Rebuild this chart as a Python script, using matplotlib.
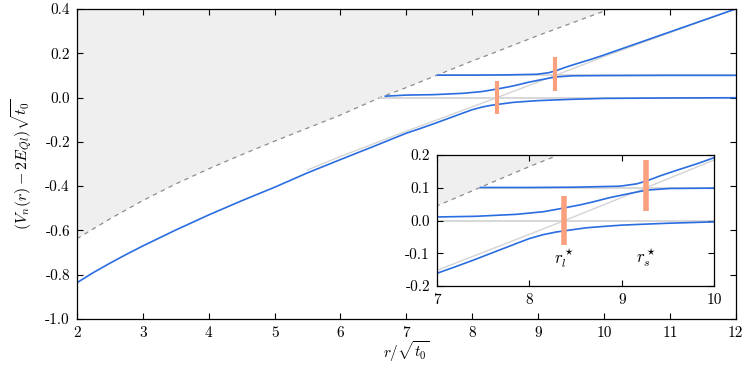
import numpy as np
import matplotlib
matplotlib.use("Agg")
import matplotlib.pyplot as plt

plt.rcParams["font.family"] = "serif"
plt.rcParams["font.serif"] = ["cmr10", "DejaVu Serif"]
plt.rcParams["mathtext.fontset"] = "cm"
plt.rcParams["axes.unicode_minus"] = False
plt.rcParams["axes.formatter.use_mathtext"] = True

# threshold (dashed line, shaded region above it)
thr_x = [2.0, 2.5, 3.0, 3.5, 4.0, 4.5, 5.0, 5.5, 6.0, 6.6, 7.0, 7.5, 8.0, 8.25,
         8.5, 9.0, 9.5, 10.0, 10.3]
thr_y = [-0.637, -0.548, -0.465, -0.390, -0.322, -0.258, -0.197, -0.138, -0.079,
         0.0, 0.045, 0.105, 0.165, 0.193, 0.222, 0.280, 0.335, 0.390, 0.425]

# lowest level
n0_x = [2.0, 2.25, 2.5, 2.75, 3.0, 3.5, 4.0, 4.5, 5.0, 5.5, 6.0, 6.5, 7.0, 7.21,
        7.42, 7.64, 7.86, 8.0, 8.15, 8.29, 8.44, 8.62, 8.8, 9.0, 9.16, 9.52, 10.0,
        10.5, 11.0, 12.0]
n0_y = [-0.836, -0.790, -0.748, -0.708, -0.670, -0.598, -0.530, -0.466, -0.405,
        -0.340, -0.280, -0.221, -0.161, -0.140, -0.118, -0.094, -0.070, -0.055,
        -0.043, -0.035, -0.029, -0.022, -0.018, -0.014, -0.012, -0.008, -0.004,
        -0.003, -0.002, -0.001]

# second level
n1_x = [6.68, 7.0, 7.42, 7.86, 8.15, 8.29, 8.44, 8.55, 8.66, 8.87, 9.09, 9.27,
        9.52, 10.0, 11.0, 12.0]
n1_y = [0.006, 0.011, 0.013, 0.019, 0.027, 0.034, 0.042, 0.048, 0.055, 0.070,
        0.083, 0.093, 0.098, 0.099, 0.100, 0.100]

# third level
n2_x = [7.47, 8.0, 8.5, 8.98, 9.16, 9.27, 9.42, 9.6, 9.81, 10.0, 10.5, 11.0, 11.5, 12.0]
n2_y = [0.101, 0.101, 0.102, 0.105, 0.112, 0.121, 0.137, 0.154, 0.173, 0.192,
        0.244, 0.296, 0.348, 0.400]

# string energy (grey)
str_x = [5.5, 6.0, 7.0, 8.0, 8.38, 9.26, 10.0, 11.0, 12.0]
str_y = [-0.327, -0.266, -0.152, -0.042, 0.0, 0.100, 0.185, 0.293, 0.400]

# flat thresholds (grey)
flat0_x = [6.6, 12.0]
flat0_y = [0.0, 0.0]
flat1_x = [7.47, 12.0]
flat1_y = [0.1, 0.1]

# string breaking distances
r_star = [8.38, 9.26]
bar_lo = [-0.075, 0.030]
bar_hi = [0.075, 0.185]
r_labels = [r"$r_l^\star$", r"$r_s^\star$"]

main_xticks = [2, 3, 4, 5, 6, 7, 8, 9, 10, 11, 12]
main_yticks = [-1.0, -0.8, -0.6, -0.4, -0.2, 0.0, 0.2, 0.4]
main_ylabels = ["-1.0", "-0.8", "-0.6", "-0.4", "-0.2", "0.0", "0.2", "0.4"]
ins_xticks = [7, 8, 9, 10]
ins_yticks = [-0.2, -0.1, 0.0, 0.1, 0.2]
ins_ylabels = ["-0.2", "-0.1", "0.0", "0.1", "0.2"]

blue = "#2a6de0"
grey = "#d4d4d4"
salmon = "#f9a07f"


def draw(ax, bar_w):
    ax.fill_between(thr_x, thr_y, 2.0, color="#efefef", lw=0, zorder=0)
    ax.plot(thr_x, thr_y, color="#8c8c8c", lw=0.9, ls=(0, (3.5, 3.5)), zorder=1)
    ax.plot(str_x, str_y, color=grey, lw=1.0, zorder=1)
    ax.plot(flat0_x, flat0_y, color=grey, lw=1.3, zorder=1)
    ax.plot(flat1_x, flat1_y, color=grey, lw=1.3, zorder=1)
    ax.plot(n0_x, n0_y, color=blue, lw=1.2, zorder=2)
    ax.plot(n1_x, n1_y, color=blue, lw=1.2, zorder=2)
    ax.plot(n2_x, n2_y, color=blue, lw=1.2, zorder=2)
    for r, lo, hi in zip(r_star, bar_lo, bar_hi):
        ax.plot([r, r], [lo, hi], color=salmon, lw=bar_w, solid_capstyle="butt", zorder=3)
    ax.tick_params(direction="in", top=True, right=True, length=4, width=0.8,
                   labelsize=11, pad=5)
    for s in ax.spines.values():
        s.set_linewidth(0.9)


fig = plt.figure(figsize=(7.47, 3.71), dpi=100)
ax = fig.add_axes([0.103, 0.140, 0.882, 0.836])
draw(ax, 3.0)
ax.set_xlim(2, 12)
ax.set_ylim(-1.0, 0.4)
ax.set_xticks(main_xticks)
ax.set_xticklabels([str(t) for t in main_xticks])
ax.set_yticks(main_yticks)
ax.set_yticklabels(main_ylabels)
ax.set_xlabel(r"$r/\sqrt{t_0}$", fontsize=11, labelpad=0)
ax.set_ylabel(r"$(V_n(r)-2E_{\bar{Q}l})\sqrt{t_0}$", fontsize=11.5, labelpad=8)

ins = fig.add_axes([0.585, 0.229, 0.371, 0.353])
ins.set_facecolor("white")
draw(ins, 4.0)
ins.set_xlim(7, 10)
ins.set_ylim(-0.2, 0.2)
ins.set_xticks(ins_xticks)
ins.set_xticklabels([str(t) for t in ins_xticks])
ins.set_yticks(ins_yticks)
ins.set_yticklabels(ins_ylabels)
for r, lab in zip(r_star, r_labels):
    ins.text(r, -0.115, lab, ha="center", va="center", fontsize=12)

fig.savefig("out.png", dpi=100)
